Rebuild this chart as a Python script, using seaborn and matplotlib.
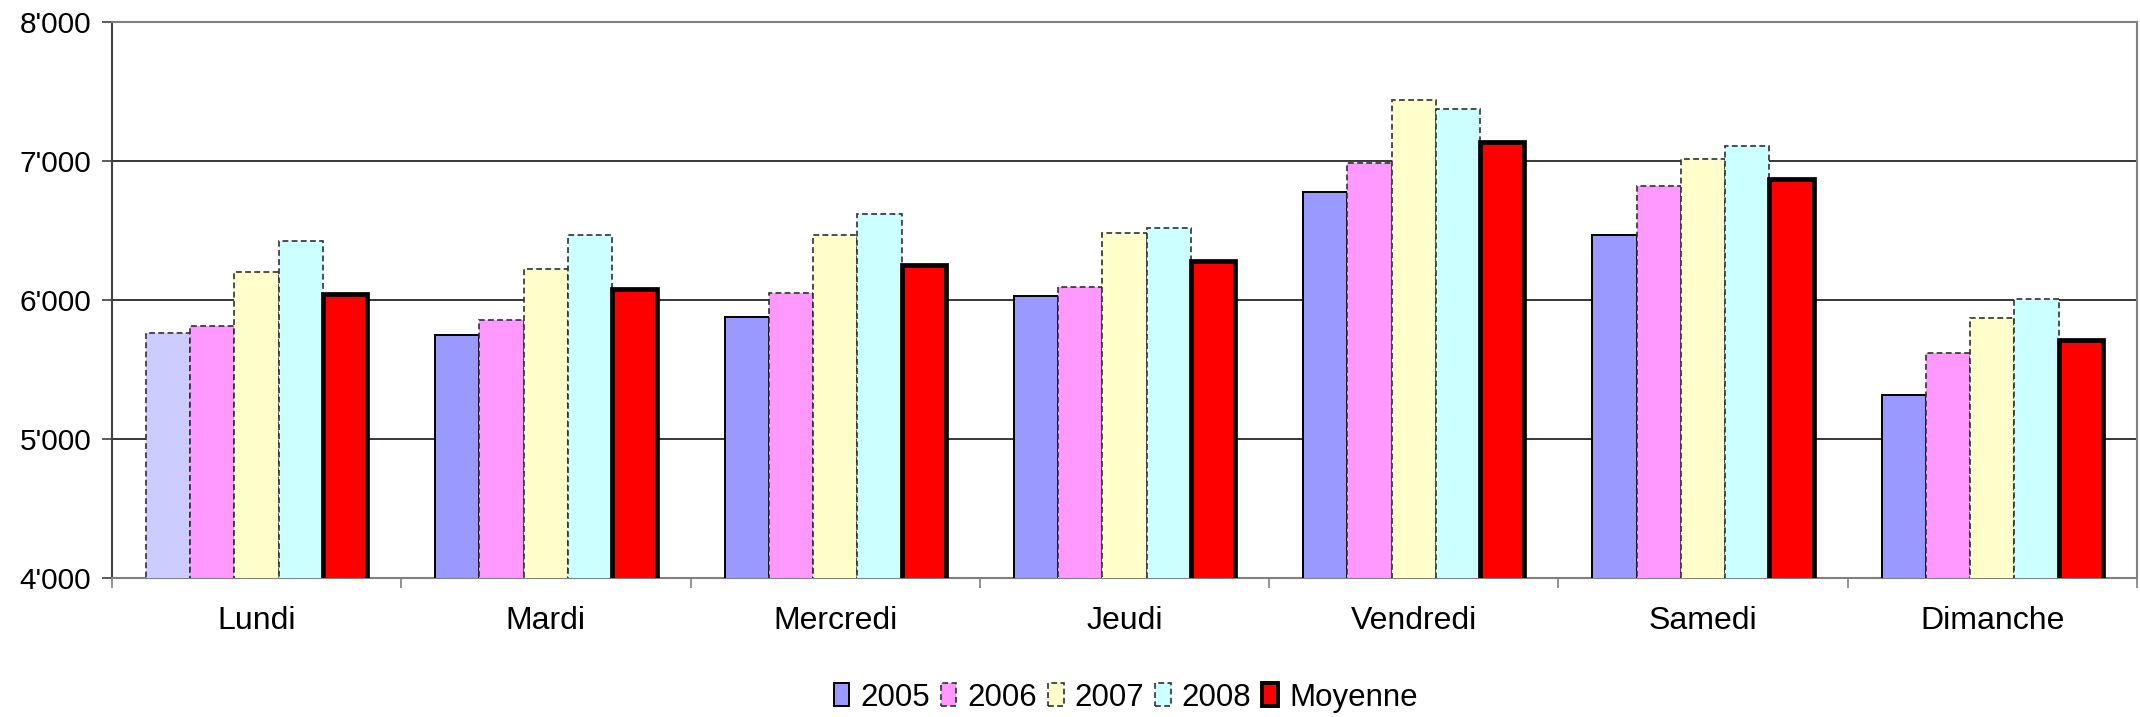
import pandas as pd
import matplotlib.pyplot as plt
from matplotlib.patches import Patch
from matplotlib.ticker import FuncFormatter, FixedLocator
import seaborn as sns

# Jours de la semaine et séries
jours = ['Lundi', 'Mardi', 'Mercredi', 'Jeudi', 'Vendredi', 'Samedi', 'Dimanche']
series = ['2005', '2006', '2007', '2008', 'Moyenne']

v2005 = [5760, 5746, 5876, 6029, 6779, 6470, 5317]
v2006 = [5811, 5859, 6048, 6094, 6986, 6820, 5619]
v2007 = [6204, 6221, 6470, 6485, 7441, 7014, 5870]
v2008 = [6427, 6470, 6617, 6521, 7376, 7108, 6010]
moyenne = [6041, 6077, 6250, 6283, 7139, 6868, 5709]

couleurs = ['#9999FF', '#FF99FF', '#FFFFCC', '#CCFFFF', '#FF0000']


def fmt_milliers(v, pos):
    return f"{int(v):,}".replace(",", "'")


def generate_plot():
    sns.set_theme(style="white")
    plt.rcParams['font.family'] = ['Liberation Sans', 'DejaVu Sans']
    plt.rcParams['text.color'] = 'black'
    plt.rcParams['xtick.labelcolor'] = 'black'
    plt.rcParams['ytick.labelcolor'] = 'black'

    valeurs = [v2005, v2006, v2007, v2008, moyenne]
    df = pd.DataFrame({
        'jour': [j for _ in series for j in jours],
        'serie': [s for s in series for _ in jours],
        'valeur': [v for vals in valeurs for v in vals],
    })

    fig = plt.figure(figsize=(21.4, 7.17), dpi=100)
    ax = fig.add_axes([0.0523, 0.194, 0.9463, 0.7753])

    sns.barplot(data=df, x='jour', y='valeur', hue='serie', order=jours,
                hue_order=series, palette=couleurs, width=0.765, gap=0,
                errorbar=None, legend=False, saturation=1, ax=ax, zorder=3)

    # Styles des contours de barres
    tirets = (0, (3.5, 2))
    styles = [
        dict(edgecolor='black', linewidth=1.4, linestyle='-'),
        dict(edgecolor='#303030', linewidth=1.2, linestyle=tirets),
        dict(edgecolor='#303030', linewidth=1.2, linestyle=tirets),
        dict(edgecolor='#303030', linewidth=1.2, linestyle=tirets),
        dict(edgecolor='black', linewidth=3.4, linestyle='-'),
    ]
    for cont, st in zip(ax.containers, styles):
        for p in cont:
            p.set_edgecolor(st['edgecolor'])
            p.set_linewidth(st['linewidth'])
            p.set_linestyle(st['linestyle'])
    # Lundi 2005 est plus clair, contour pointillé
    first = ax.containers[0][0]
    first.set_facecolor('#CCCCFF')
    first.set_edgecolor('#303030')
    first.set_linewidth(1.2)
    first.set_linestyle(tirets)

    ax.set_ylim(4000, 8000)
    ax.set_xlim(-0.5, len(jours) - 0.5)
    ax.set_yticks([4000, 5000, 6000, 7000, 8000])
    ax.yaxis.set_major_formatter(FuncFormatter(fmt_milliers))
    ax.yaxis.grid(True, color='black', linewidth=1.1, zorder=0)
    ax.set_axisbelow(True)

    # Ticks aux frontières, étiquettes au centre
    ax.xaxis.set_major_locator(FixedLocator([i - 0.5 for i in range(len(jours) + 1)]))
    ax.xaxis.set_minor_locator(FixedLocator(list(range(len(jours)))))
    ax.xaxis.set_major_formatter(FuncFormatter(lambda v, p: ''))
    ax.set_xticklabels(jours, minor=True)
    ax.tick_params(axis='x', which='major', length=7, width=1.2, color='#808080', direction='out', bottom=True)
    ax.tick_params(axis='x', which='minor', length=0, labelsize=23, pad=20)
    ax.tick_params(axis='y', length=7, width=1.2, color='#404040', direction='out', left=True, labelsize=21.5, pad=8)

    ax.set_xlabel('')
    ax.set_ylabel('')
    for side in ['top', 'right', 'bottom']:
        ax.spines[side].set_color('#808080')
        ax.spines[side].set_linewidth(1.5)
    ax.spines['left'].set_color('#404040')
    ax.spines['left'].set_linewidth(1.5)

    handles = []
    for c, st in zip(couleurs, styles):
        handles.append(Patch(facecolor=c, edgecolor=st['edgecolor'],
                             linewidth=min(st['linewidth'], 2.8),
                             linestyle=st['linestyle']))
    fig.legend(handles, series, loc='center', bbox_to_anchor=(0.526, 0.027),
               ncol=5, frameon=False, fontsize=22.5, handlelength=0.5,
               handleheight=0.75, handletextpad=0.35, columnspacing=0.35,
               borderaxespad=0, borderpad=0)

    fig.savefig('out.png', dpi=100)
    plt.close(fig)


if __name__ == '__main__':
    generate_plot()
